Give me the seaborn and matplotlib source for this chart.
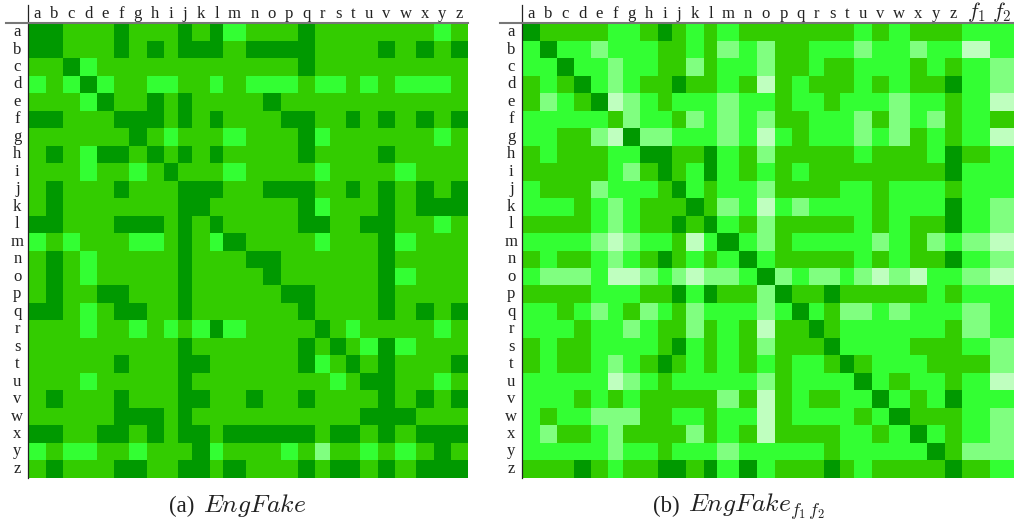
import numpy as np
import matplotlib
matplotlib.use("Agg")
import matplotlib.pyplot as plt
from matplotlib.colors import ListedColormap
from matplotlib.lines import Line2D
import seaborn as sns

letters = list("abcdefghijklmnopqrstuvwxyz")
right_cols = letters + ["$f_1$", "$f_2$"]

# levels: 0 darkest ... 4 palest
eng_fake = [
    [0,0,1,1,1,0,1,1,1,0,1,0,2,1,1,1,0,1,1,1,1,1,1,1,2,1],
    [0,0,1,1,1,0,1,0,1,0,0,0,1,0,0,0,0,1,1,1,1,0,1,0,1,0],
    [1,1,0,2,1,1,1,1,1,1,1,1,1,1,1,1,0,1,1,1,1,1,1,1,1,1],
    [2,1,2,0,2,1,1,2,2,1,1,2,1,2,2,2,1,2,2,1,2,1,2,2,2,1],
    [1,1,1,2,0,1,1,0,1,0,1,1,1,1,0,1,1,1,1,1,1,1,1,1,1,1],
    [0,0,1,1,1,0,0,0,1,0,1,0,1,1,1,0,0,1,1,0,1,0,1,0,1,0],
    [1,1,1,1,1,1,0,1,2,1,1,1,2,1,1,1,0,2,1,1,1,1,1,1,2,1],
    [1,0,1,2,0,0,1,0,1,0,1,0,1,1,1,1,0,1,1,1,1,0,1,1,1,1],
    [1,1,1,2,1,1,2,1,0,1,1,1,2,1,1,1,1,2,1,1,1,1,2,1,1,1],
    [1,0,1,1,1,0,1,1,1,0,0,0,1,1,0,0,0,1,1,0,1,0,1,0,1,0],
    [1,0,1,1,1,1,1,1,1,0,0,1,1,1,1,1,0,2,1,1,1,0,1,0,0,0],
    [0,0,1,1,1,0,0,0,1,0,1,0,1,1,1,1,0,0,1,1,0,0,1,1,2,1],
    [2,1,2,1,1,1,2,2,1,0,1,2,0,1,1,1,1,2,1,1,1,0,2,1,1,1],
    [1,0,1,2,1,1,1,1,1,0,1,1,1,0,0,1,1,1,1,1,1,0,1,1,1,1],
    [1,0,1,2,1,1,1,1,1,0,1,1,1,1,0,1,1,1,1,1,1,0,2,1,1,1],
    [1,0,1,1,0,0,1,1,1,0,1,1,1,1,1,0,0,1,1,1,1,0,1,1,1,1],
    [0,0,1,2,1,0,0,1,1,0,1,1,1,1,1,1,0,1,1,1,1,0,1,0,1,0],
    [1,1,1,2,1,1,2,1,2,1,2,0,2,1,1,1,1,0,1,2,1,1,1,1,2,1],
    [1,1,1,1,1,1,1,1,1,0,1,1,1,1,1,1,0,1,0,1,2,0,2,1,1,1],
    [1,1,1,1,1,0,1,1,1,0,0,1,1,1,1,1,0,2,1,0,1,0,1,1,1,0],
    [1,1,1,2,1,1,1,1,1,0,1,1,1,1,1,1,1,1,2,1,0,0,1,1,2,1],
    [1,0,1,1,1,0,1,1,1,0,0,1,1,0,1,1,0,1,1,1,1,0,1,0,1,0],
    [1,1,1,1,1,0,0,0,1,0,1,1,1,1,1,1,1,1,1,1,0,0,0,1,1,1],
    [0,0,1,1,0,0,1,0,1,0,0,1,0,0,0,0,0,1,0,0,1,0,1,0,0,0],
    [2,1,2,2,1,1,2,1,1,1,0,2,1,1,1,2,1,3,1,1,2,1,2,1,0,1],
    [1,0,1,1,1,0,0,1,1,0,0,1,0,1,1,1,0,1,0,0,1,0,1,0,0,0],
]

eng_fake_f1f2 = [
    [0,1,1,1,1,2,2,1,0,1,2,1,2,1,1,1,1,1,1,1,2,1,2,1,1,1,2,2],
    [2,0,2,2,3,2,2,2,1,1,2,1,3,2,3,1,1,2,2,2,3,2,2,3,2,2,4,2],
    [2,2,0,2,2,3,2,2,1,1,3,1,2,2,3,1,1,2,1,1,2,2,2,1,2,1,2,3],
    [1,2,1,0,2,3,2,1,1,0,1,1,2,1,4,1,2,1,1,1,2,1,2,1,1,0,2,3],
    [1,3,2,1,0,4,3,2,1,2,2,2,3,2,2,1,2,2,1,2,2,2,3,2,2,1,2,4],
    [2,2,2,2,2,1,3,2,2,1,3,2,3,2,3,1,1,2,2,2,3,1,3,2,3,1,2,1],
    [2,2,1,1,3,4,0,3,3,2,2,2,3,2,4,2,1,2,2,2,3,2,3,1,2,1,2,4],
    [1,2,1,1,1,2,2,0,0,1,1,0,2,1,3,1,1,1,1,1,2,1,1,1,2,0,1,2],
    [1,1,1,1,1,2,3,1,0,1,2,0,2,1,2,1,2,1,1,1,1,1,1,1,1,0,2,2],
    [2,1,1,1,3,2,2,2,1,0,2,1,2,2,3,1,1,1,1,2,2,1,2,2,2,1,2,2],
    [2,2,2,1,2,3,2,1,1,1,0,1,3,2,4,2,3,2,2,2,2,1,2,2,2,0,2,3],
    [1,1,1,1,2,3,2,1,1,0,1,0,2,1,3,1,1,1,1,1,2,1,2,1,1,0,2,3],
    [2,2,2,2,3,4,3,2,2,1,4,2,0,2,3,1,2,2,2,2,2,3,2,1,3,2,3,4],
    [1,2,1,1,2,3,2,1,0,1,2,1,2,0,2,1,1,1,1,1,2,1,2,1,1,0,2,3],
    [2,3,3,3,2,4,4,3,2,3,4,3,3,2,0,3,2,3,3,2,3,4,3,4,2,2,3,4],
    [1,1,1,1,2,2,2,1,1,0,2,0,1,1,3,0,1,1,0,1,1,1,1,1,2,1,2,2],
    [2,2,1,2,3,2,1,3,2,1,3,2,2,2,3,2,0,2,1,3,3,2,3,2,2,2,3,2],
    [2,2,2,1,2,2,3,2,1,1,3,1,2,1,4,1,1,0,1,2,2,2,2,2,2,1,3,2],
    [1,2,1,1,2,2,2,2,1,0,2,1,2,1,3,1,1,1,0,2,2,2,2,1,1,1,2,3],
    [1,2,1,1,2,3,2,1,0,1,2,1,2,1,2,1,2,2,1,0,1,2,2,2,1,1,1,3],
    [2,2,2,2,2,4,3,2,1,2,2,2,2,2,3,1,2,2,2,2,0,2,1,2,2,1,2,4],
    [2,2,2,1,2,1,2,1,1,1,1,1,3,1,4,1,2,1,1,2,2,0,2,1,2,0,2,2],
    [2,1,2,2,3,3,3,1,1,2,2,1,2,2,4,1,2,2,2,2,1,2,0,1,1,1,2,3],
    [2,3,1,1,2,3,1,1,1,1,3,1,2,1,4,1,1,1,1,2,2,1,2,0,2,1,2,3],
    [2,2,2,2,2,3,2,2,1,2,2,2,3,2,2,2,2,2,1,2,2,2,2,2,0,1,3,3],
    [1,1,1,0,1,2,1,1,0,0,1,0,2,0,2,1,1,1,0,1,2,1,1,1,1,0,1,2],
]

palette = ["#009900", "#33cc00", "#33ff33", "#80ff80", "#bfffbf"]

# column edges in pixels, the original is an html table so widths follow the labels
left_edges = [28.7,45.7,63,80,97,114,129,146.7,164,177.7,192.3,209.7,223.3,245.7,263,
              280.7,298,315,330,346,360,378,395.3,416,433.7,451,468]
right_edges = [522.7,539.7,557,574,591,608,623,640.3,657.7,672,686,703.7,717.3,739.3,757,
               774.7,792.3,809.3,824,840,854,871.7,889,909.7,927.3,945,962,990,1014]

W, H = 1014, 524
top, bottom = 23.3, 477.7

plt.rcParams["font.family"] = ["Liberation Serif", "DejaVu Serif"]
plt.rcParams["mathtext.fontset"] = "cm"

cmap = ListedColormap(palette)
fig = plt.figure(figsize=(W / 100, H / 100), dpi=100)


def draw_matrix(values, xlabels, edges, line_from, tag, tag_x, title, title_x):
    edges = np.array(edges)
    ax = fig.add_axes([edges[0] / W, 1 - bottom / H, (edges[-1] - edges[0]) / W, (bottom - top) / H])
    sns.heatmap(np.array(values), ax=ax, cmap=cmap, vmin=-0.5, vmax=4.5, cbar=False)
    idx = np.arange(len(edges), dtype=float)
    ax.set_xscale("function", functions=(lambda v: np.interp(v, idx, edges),
                                         lambda p: np.interp(p, edges, idx)))
    ax.set_xlim(0, len(xlabels))
    ax.set_xticks(idx[:-1] + 0.5, xlabels, rotation=0)
    ax.set_xticks([], minor=True)
    ax.set_yticks(np.arange(len(letters)) + 0.5, letters, rotation=0)
    ax.xaxis.tick_top()
    ax.tick_params(length=0, labelsize=12, colors="#222222")
    ax.tick_params(axis="x", pad=4)
    ax.tick_params(axis="y", pad=8.2)
    for lab in ax.get_yticklabels():
        lab.set_ha("center")
    for lab in ax.get_xticklabels():
        lab.set_va("baseline")
        if lab.get_text().startswith("$"):
            lab.set_fontsize(15.5)
    ax.set_xlabel("")
    ax.set_ylabel("")
    for s in ax.spines.values():
        s.set_visible(False)
    # header rules of the table
    fig.add_artist(Line2D([edges[0] / W - 0.0005] * 2, [1 - bottom / H, 1 - 5 / H], color="#222222", lw=0.9))
    fig.add_artist(Line2D([line_from / W, edges[-1] / W], [1 - 22.8 / H] * 2, color="#777777", lw=1.5))
    fig.text(tag_x / W, 1 - 512 / H, tag, ha="left", va="baseline", fontsize=16.5, color="#222222")
    fig.text(title_x / W, 1 - 512 / H, title, ha="left", va="baseline", fontsize=18.5, color="#222222")


draw_matrix(eng_fake, letters, left_edges, 6, "(a)", 168.5, "$EngFake$", 203)
draw_matrix(eng_fake_f1f2, right_cols, right_edges, 500, "(b)", 653, r"$EngFake_{f_1 \, f_2}$", 688)

fig.savefig("out.png", dpi=100)
